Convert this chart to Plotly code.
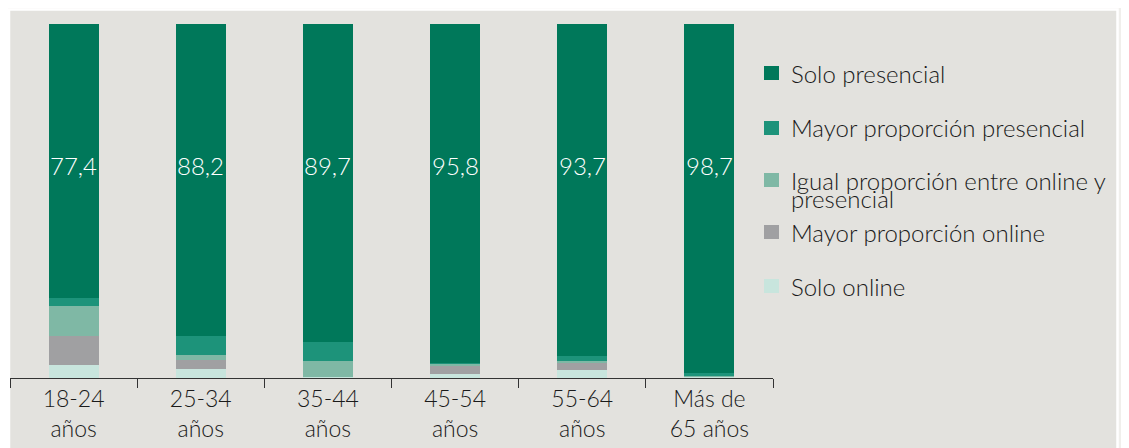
import plotly.graph_objects as go

categories = ["18-24<br>años", "25-34<br>años", "35-44<br>años", "45-54<br>años", "55-64<br>años", "Más de<br>65 años"]

solo_presencial = [77.4, 88.2, 89.7, 95.8, 93.7, 98.7]
mayor_presencial = [2.4, 5.3, 5.5, 0.2, 1.4, 0.6]
igual_proporcion = [8.2, 1.4, 4.4, 0.4, 0.5, 0.3]
mayor_online = [8.2, 2.6, 0.0, 2.6, 2.2, 0.0]
solo_online = [3.8, 2.5, 0.4, 1.0, 2.2, 0.4]

value_labels = ["77,4", "88,2", "89,7", "95,8", "93,7", "98,7"]

series_names = [
    "Solo online",
    "Mayor proporción online",
    "Igual proporción entre online y presencial",
    "Mayor proporción presencial",
    "Solo presencial",
]
series_values = [solo_online, mayor_online, igual_proporcion, mayor_presencial, solo_presencial]
series_colors = ["#c8e5dd", "#a0a0a2", "#7fb8a5", "#1d937a", "#00785a"]

FONT = "Lato"
FW = 300
FS = 24
OFF = 8  # page body margin
W, H = 1129 - OFF, 448 - OFF
# plot area in page pixels: x 10..773, y 24..378
L = 10 - OFF
T = 24 - OFF
R = W - (773 - OFF)
B = H - (378 - OFF)
PW = W - L - R
PH = H - T - B


def px_x(px):  # page px -> paper x
    return (px - OFF - L) / PW


def px_y(py):  # page px -> paper y
    return (H - B - (py - OFF)) / PH


fig = go.Figure()
for name, vals, col in zip(series_names, series_values, series_colors):
    fig.add_trace(go.Bar(
        x=categories, y=vals, name=name, marker_color=col,
        marker_line_width=0, showlegend=False, hoverinfo="skip",
    ))

annotations = []
for cat, lab in zip(categories, value_labels):
    annotations.append(dict(
        x=cat, y=60, xref="x", yref="y", text=lab, showarrow=False,
        font=dict(family=FONT, size=FS, color="white", weight=FW),
        xanchor="center", yanchor="middle",
    ))

shapes = [
    dict(type="rect", xref="paper", yref="paper", layer="below",
         x0=px_x(9), x1=px_x(1117.5), y0=px_y(9.5), y1=px_y(470),
         fillcolor="#e3e2de", line=dict(color="white", width=2.5)),
]

# legend (top to bottom)
legend_items = [
    (4, ["Solo presencial"], 73),
    (3, ["Mayor proporción presencial"], 128),
    (2, ["Igual proporción entre online y", "presencial"], 180),
    (1, ["Mayor proporción online"], 232),
    (0, ["Solo online"], 286),
]
for idx, lines, cy in legend_items:
    shapes.append(dict(
        type="rect", xref="paper", yref="paper",
        x0=px_x(764), x1=px_x(779), y0=px_y(cy - 7), y1=px_y(cy + 7),
        fillcolor=series_colors[idx], line=dict(width=0),
    ))
    for k, line in enumerate(lines):
        annotations.append(dict(
            x=px_x(789), y=px_y(cy + k * 18), xref="paper", yref="paper",
            text=line, showarrow=False, xanchor="left", yanchor="middle",
            font=dict(family=FONT, size=FS, color="#1a1a1a", weight=FW),
        ))

fig.update_layout(
    barmode="stack",
    bargap=0.607,
    width=W, height=H,
    margin=dict(l=L, r=R, t=T, b=B, pad=0),
    paper_bgcolor="#f0efec",
    plot_bgcolor="rgba(0,0,0,0)",
    font=dict(family=FONT, size=FS, color="#1a1a1a", weight=FW),
    showlegend=False,
    annotations=annotations,
    shapes=shapes,
    xaxis=dict(
        showline=True, linecolor="#333333", linewidth=1.2,
        ticks="outside", tickson="boundaries", ticklen=9, tickcolor="#333333", tickwidth=1.2,
        showgrid=False, tickfont=dict(family=FONT, size=FS - 1, color="#1a1a1a", weight=FW),
    ),
    yaxis=dict(range=[0, 100], visible=False, showgrid=False, fixedrange=True),
)

fig.write_html("out.html")
